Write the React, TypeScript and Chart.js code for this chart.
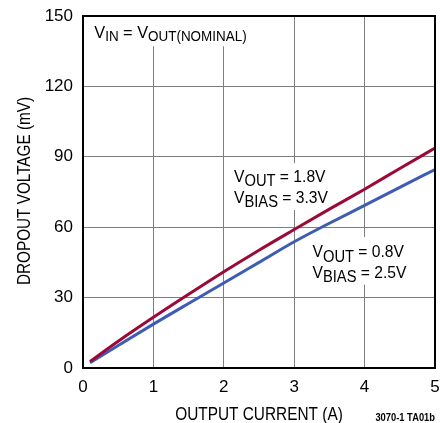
import React, { useEffect, useRef } from "react";
import { Chart, registerables } from "chart.js";

Chart.register(...registerables);

// ---- data ----
const currentA = [0.1, 0.5, 1, 1.5, 2, 2.5, 3, 3.5, 4, 4.5, 5];
const dropoutVout18 = [2.8, 11.4, 21.6, 31.4, 41, 50.2, 59, 67.7, 76.2, 85, 93.7];
const dropoutVout08 = [2.2, 9.6, 18.7, 27.5, 36.2, 45, 53.8, 61.7, 69.3, 77, 84.6];
const xTickValues = [0, 1, 2, 3, 4, 5];
const yTickValues = [0, 30, 60, 90, 120, 150];
const xTitle = "OUTPUT CURRENT (A)";
const yTitle = "DROPOUT VOLTAGE (mV)";
const figId = "3070-1 TA01b";

const FONT = '"Liberation Sans", Arial, Helvetica, sans-serif';
const RED = "#9b0a36";
const BLUE = "#3d5cb3";
const GRID = "#7d7d7d";

type Part = { t: string; sub?: boolean };

function drawRich(
  ctx: CanvasRenderingContext2D,
  x: number,
  y: number,
  parts: Part[],
  size: number,
  subSize: number,
  subOff: number,
  sx: number
) {
  ctx.save();
  ctx.translate(x, y);
  ctx.scale(sx, 1);
  let cx = 0;
  ctx.textBaseline = "alphabetic";
  ctx.textAlign = "left";
  ctx.fillStyle = "#000";
  for (const p of parts) {
    ctx.font = `${p.sub ? subSize : size}px ${FONT}`;
    ctx.fillText(p.t, cx, p.sub ? subOff : 0);
    cx += ctx.measureText(p.t).width;
  }
  ctx.restore();
}

function drawScaledText(
  ctx: CanvasRenderingContext2D,
  text: string,
  x: number,
  y: number,
  font: string,
  align: CanvasTextAlign,
  sx: number,
  rotate = 0
) {
  ctx.save();
  ctx.translate(x, y);
  if (rotate) ctx.rotate(rotate);
  ctx.scale(sx, 1);
  ctx.font = font;
  ctx.fillStyle = "#000";
  ctx.textAlign = align;
  ctx.textBaseline = "alphabetic";
  ctx.fillText(text, 0, 0);
  ctx.restore();
}

const annotationPlugin = {
  id: "annotations",
  beforeDatasetsDraw(chart: any) {
    const ctx: CanvasRenderingContext2D = chart.ctx;
    const xs = chart.scales.x;
    const ys = chart.scales.y;
    const X = (v: number) => xs.getPixelForValue(v);
    const Y = (v: number) => ys.getPixelForValue(v);
    const area = chart.chartArea;
    ctx.save();
    // white knock-out boxes behind the labels
    ctx.fillStyle = "#fff";
    ctx.fillRect(area.left + 1, area.top + 1, X(2.45) - area.left, Y(137.5) - area.top);
    ctx.fillRect(X(2.05), Y(87.3), X(3.55) - X(2.05), Y(67.3) - Y(87.3));
    ctx.fillRect(X(3.15), Y(55.8), X(4.6) - X(3.15), Y(35.5) - Y(55.8));
    ctx.restore();

    drawRich(ctx, X(0.16), Y(140.5), [{ t: "V" }, { t: "IN", sub: true }, { t: " = V" }, { t: "OUT(NOMINAL)", sub: true }], 17, 14, 2.5, 0.96);

    drawRich(ctx, X(2.145), Y(79.3), [{ t: "V" }, { t: "OUT", sub: true }, { t: " = 1.8V" }], 17, 16, 4.5, 0.92);
    drawRich(ctx, X(2.145), Y(70.4), [{ t: "V" }, { t: "BIAS", sub: true }, { t: " = 3.3V" }], 17, 16, 4.5, 0.92);

    drawRich(ctx, X(3.26), Y(47.3), [{ t: "V" }, { t: "OUT", sub: true }, { t: " = 0.8V" }], 17, 16, 4.5, 0.92);
    drawRich(ctx, X(3.26), Y(38.5), [{ t: "V" }, { t: "BIAS", sub: true }, { t: " = 2.5V" }], 17, 16, 4.5, 0.92);
  },
  afterDatasetsDraw(chart: any) {
    const ctx: CanvasRenderingContext2D = chart.ctx;
    const a = chart.chartArea;
    ctx.save();
    ctx.strokeStyle = "#000";
    ctx.lineWidth = 2;
    ctx.strokeRect(a.left, a.top, a.right - a.left, a.bottom - a.top);
    ctx.restore();
  },
  afterDraw(chart: any) {
    const ctx: CanvasRenderingContext2D = chart.ctx;
    const a = chart.chartArea;
    drawScaledText(ctx, xTitle, (a.left + a.right) / 2, 419.5, `19px ${FONT}`, "center", 0.81);
    drawScaledText(ctx, yTitle, 30, (a.top + a.bottom) / 2 - 1, `18px ${FONT}`, "center", 0.85, -Math.PI / 2);
    drawScaledText(ctx, figId, a.right, 420.5, `bold 11px ${FONT}`, "right", 0.85);
  },
};

export default function App() {
  const ref = useRef<HTMLCanvasElement | null>(null);
  useEffect(() => {
    if (!ref.current) return;
    const chart = new Chart(ref.current, {
      type: "line",
      data: {
        datasets: [
          {
            label: "VOUT = 1.8V",
            data: currentA.map((x, i) => ({ x, y: dropoutVout18[i] })),
            borderColor: RED,
            borderWidth: 3,
            pointRadius: 0,
            cubicInterpolationMode: "monotone",
          },
          {
            label: "VOUT = 0.8V",
            data: currentA.map((x, i) => ({ x, y: dropoutVout08[i] })),
            borderColor: BLUE,
            borderWidth: 3,
            pointRadius: 0,
            cubicInterpolationMode: "monotone",
          },
        ],
      },
      options: {
        animation: false,
        responsive: false,
        layout: { padding: { top: 16, right: 5, left: 0, bottom: 0 } },
        plugins: { legend: { display: false }, tooltip: { enabled: false } },
        scales: {
          x: {
            type: "linear",
            min: 0,
            max: 5,
            afterBuildTicks: (s: any) => {
              s.ticks = xTickValues.map((v) => ({ value: v }));
            },
            afterFit: (s: any) => {
              s.height = 55;
              s.paddingLeft = 0;
              s.paddingRight = 0;
            },
            ticks: {
              color: "#000",
              font: { family: FONT, size: 17 },
              padding: 9,
              maxRotation: 0,
            },
            grid: { color: GRID, lineWidth: 1, drawTicks: false },
            border: { display: false },
          },
          y: {
            type: "linear",
            min: 0,
            max: 150,
            afterBuildTicks: (s: any) => {
              s.ticks = yTickValues.map((v) => ({ value: v }));
            },
            afterFit: (s: any) => {
              s.width = 83;
              s.paddingTop = 0;
              s.paddingBottom = 0;
            },
            ticks: {
              color: "#000",
              font: { family: FONT, size: 17 },
              padding: 10,
            },
            grid: { color: GRID, lineWidth: 1, drawTicks: false },
            border: { display: false },
          },
        },
      },
      plugins: [annotationPlugin],
    } as any);
    return () => chart.destroy();
  }, []);
  return (
    <div style={{ position: "absolute", left: 0, top: 0, width: 440, height: 423, background: "#fff" }}>
      <canvas ref={ref} width={440} height={423} style={{ display: "block" }} />
    </div>
  );
}
